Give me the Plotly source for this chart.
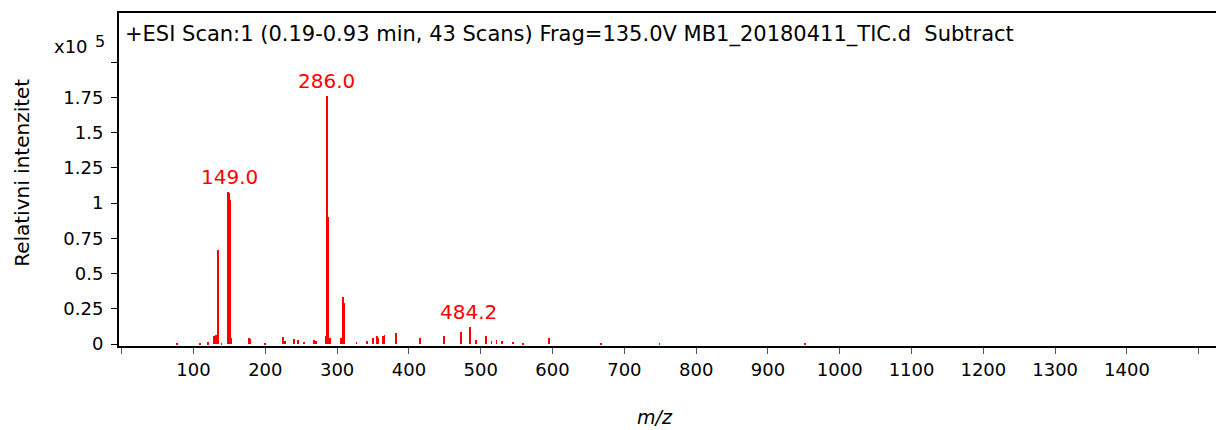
import plotly.graph_objects as go

# spectrum sticks (m/z, intensity in x10^5 counts)
mz = [76.6, 109, 120, 128.5, 131, 133, 134.5, 139,
      148, 149, 150, 151, 152.5, 177.3, 178.5, 199.6,
      224, 227, 240.4, 245, 254, 268, 270,
      284.8, 285.6, 286.4, 287.2, 288, 290, 305,
      307.8, 308.8, 309.8, 327, 341, 350, 355, 357, 364, 366,
      381.4, 415.5, 449, 472.6, 484.6, 494, 507, 515, 522, 529,
      544.6, 559, 595.6, 667, 749, 951]
intensity = [0.004, 0.005, 0.012, 0.06, 0.065, 0.05, 0.667, 0.01,
             1.076, 1.07, 1.05, 1.02, 0.04, 0.045, 0.035, 0.005,
             0.047, 0.025, 0.035, 0.03, 0.015, 0.028, 0.02,
             0.06, 0.9, 1.76, 0.9, 0.06, 0.045, 0.04,
             0.335, 0.32, 0.29, 0.015, 0.02, 0.04, 0.055, 0.04, 0.06, 0.065,
             0.078, 0.045, 0.06, 0.087, 0.12, 0.03, 0.06, 0.02, 0.03, 0.025,
             0.015, 0.005, 0.04, 0.004, 0.004, 0.003]

# labelled peaks
peak_labels = ["149.0", "286.0", "484.2"]
peak_mz = [149.4, 284.6, 483.0]
peak_top = [1.076, 1.76, 0.12]

x_ticks = list(range(0, 1600, 100))
x_ticktext = ["" if (v == 0 or v == 1500) else str(v) for v in x_ticks]
y_ticks = [0, 0.25, 0.5, 0.75, 1.0, 1.25, 1.5, 1.75, 2.0]
y_ticktext = ["0", "0.25", "0.5", "0.75", "1", "1.25", "1.5", "1.75", ""]

title_text = "+ESI Scan:1 (0.19-0.93 min, 43 Scans) Frag=135.0V MB1_20180411_TIC.d  Subtract"

FONT = "DejaVu Sans"
BLACK = "#000000"

fig = go.Figure()
fig.add_trace(go.Bar(
    x=mz, y=intensity, width=1.3,
    marker=dict(color="#ff0000", line=dict(width=0)),
    showlegend=False
))

for txt, px, py in zip(peak_labels, peak_mz, peak_top):
    fig.add_annotation(x=px, y=py, text=txt, showarrow=False,
                       xanchor="center", yanchor="bottom", yshift=1,
                       font=dict(family=FONT, size=20, color="#ff0000"))

# scan header inside the frame
fig.add_annotation(xref="paper", yref="paper", x=0, y=1, xanchor="left", yanchor="top",
                   xshift=4, yshift=-7, text=title_text, showarrow=False,
                   font=dict(family=FONT, size=21, color=BLACK))
# exponent marker
fig.add_annotation(xref="paper", yref="paper", x=0, y=1, xanchor="right", yanchor="top",
                   xshift=-29, yshift=-21, text="x10", showarrow=False,
                   font=dict(family=FONT, size=18, color=BLACK))
fig.add_annotation(xref="paper", yref="paper", x=0, y=1, xanchor="right", yanchor="top",
                   xshift=-12, yshift=-17, text="5", showarrow=False,
                   font=dict(family=FONT, size=16, color=BLACK))
# axis titles
fig.add_annotation(xref="paper", yref="paper", x=0, y=0.52, xanchor="center", yanchor="middle",
                   xshift=-97, textangle=-90, text="Relativni intenzitet", showarrow=False,
                   font=dict(family=FONT, size=20, color=BLACK))
fig.add_annotation(xref="paper", yref="paper", x=0.489, y=0, xanchor="center", yanchor="top",
                   yshift=-58, text="<i>m/z</i>", showarrow=False,
                   font=dict(family=FONT, size=19, color=BLACK))

fig.update_layout(
    width=1216, height=430,
    margin=dict(l=119, r=0, t=13, b=84),
    paper_bgcolor="white", plot_bgcolor="white",
    bargap=0,
    font=dict(family=FONT, color=BLACK),
    xaxis=dict(range=[-3.8, 1524], tickmode="array", tickvals=x_ticks, ticktext=x_ticktext,
               ticks="outside", ticklen=6, tickwidth=1, tickcolor="#555555",
               showline=True, linecolor=BLACK, linewidth=2, mirror=True,
               showgrid=False, zeroline=False, automargin=False,
               tickfont=dict(family=FONT, size=18, color=BLACK)),
    yaxis=dict(range=[-0.014, 2.348], tickmode="array", tickvals=y_ticks, ticktext=y_ticktext,
               ticks="outside", ticklen=6, tickwidth=1, tickcolor=BLACK,
               ticklabelstandoff=4,
               showline=True, linecolor=BLACK, linewidth=2,
               showgrid=False, zeroline=False, automargin=False,
               tickfont=dict(family=FONT, size=18, color=BLACK)),
)

fig.write_html("out.html", config={"displayModeBar": False},
               post_script="document.body.style.margin='0';document.body.style.overflow='hidden';")
